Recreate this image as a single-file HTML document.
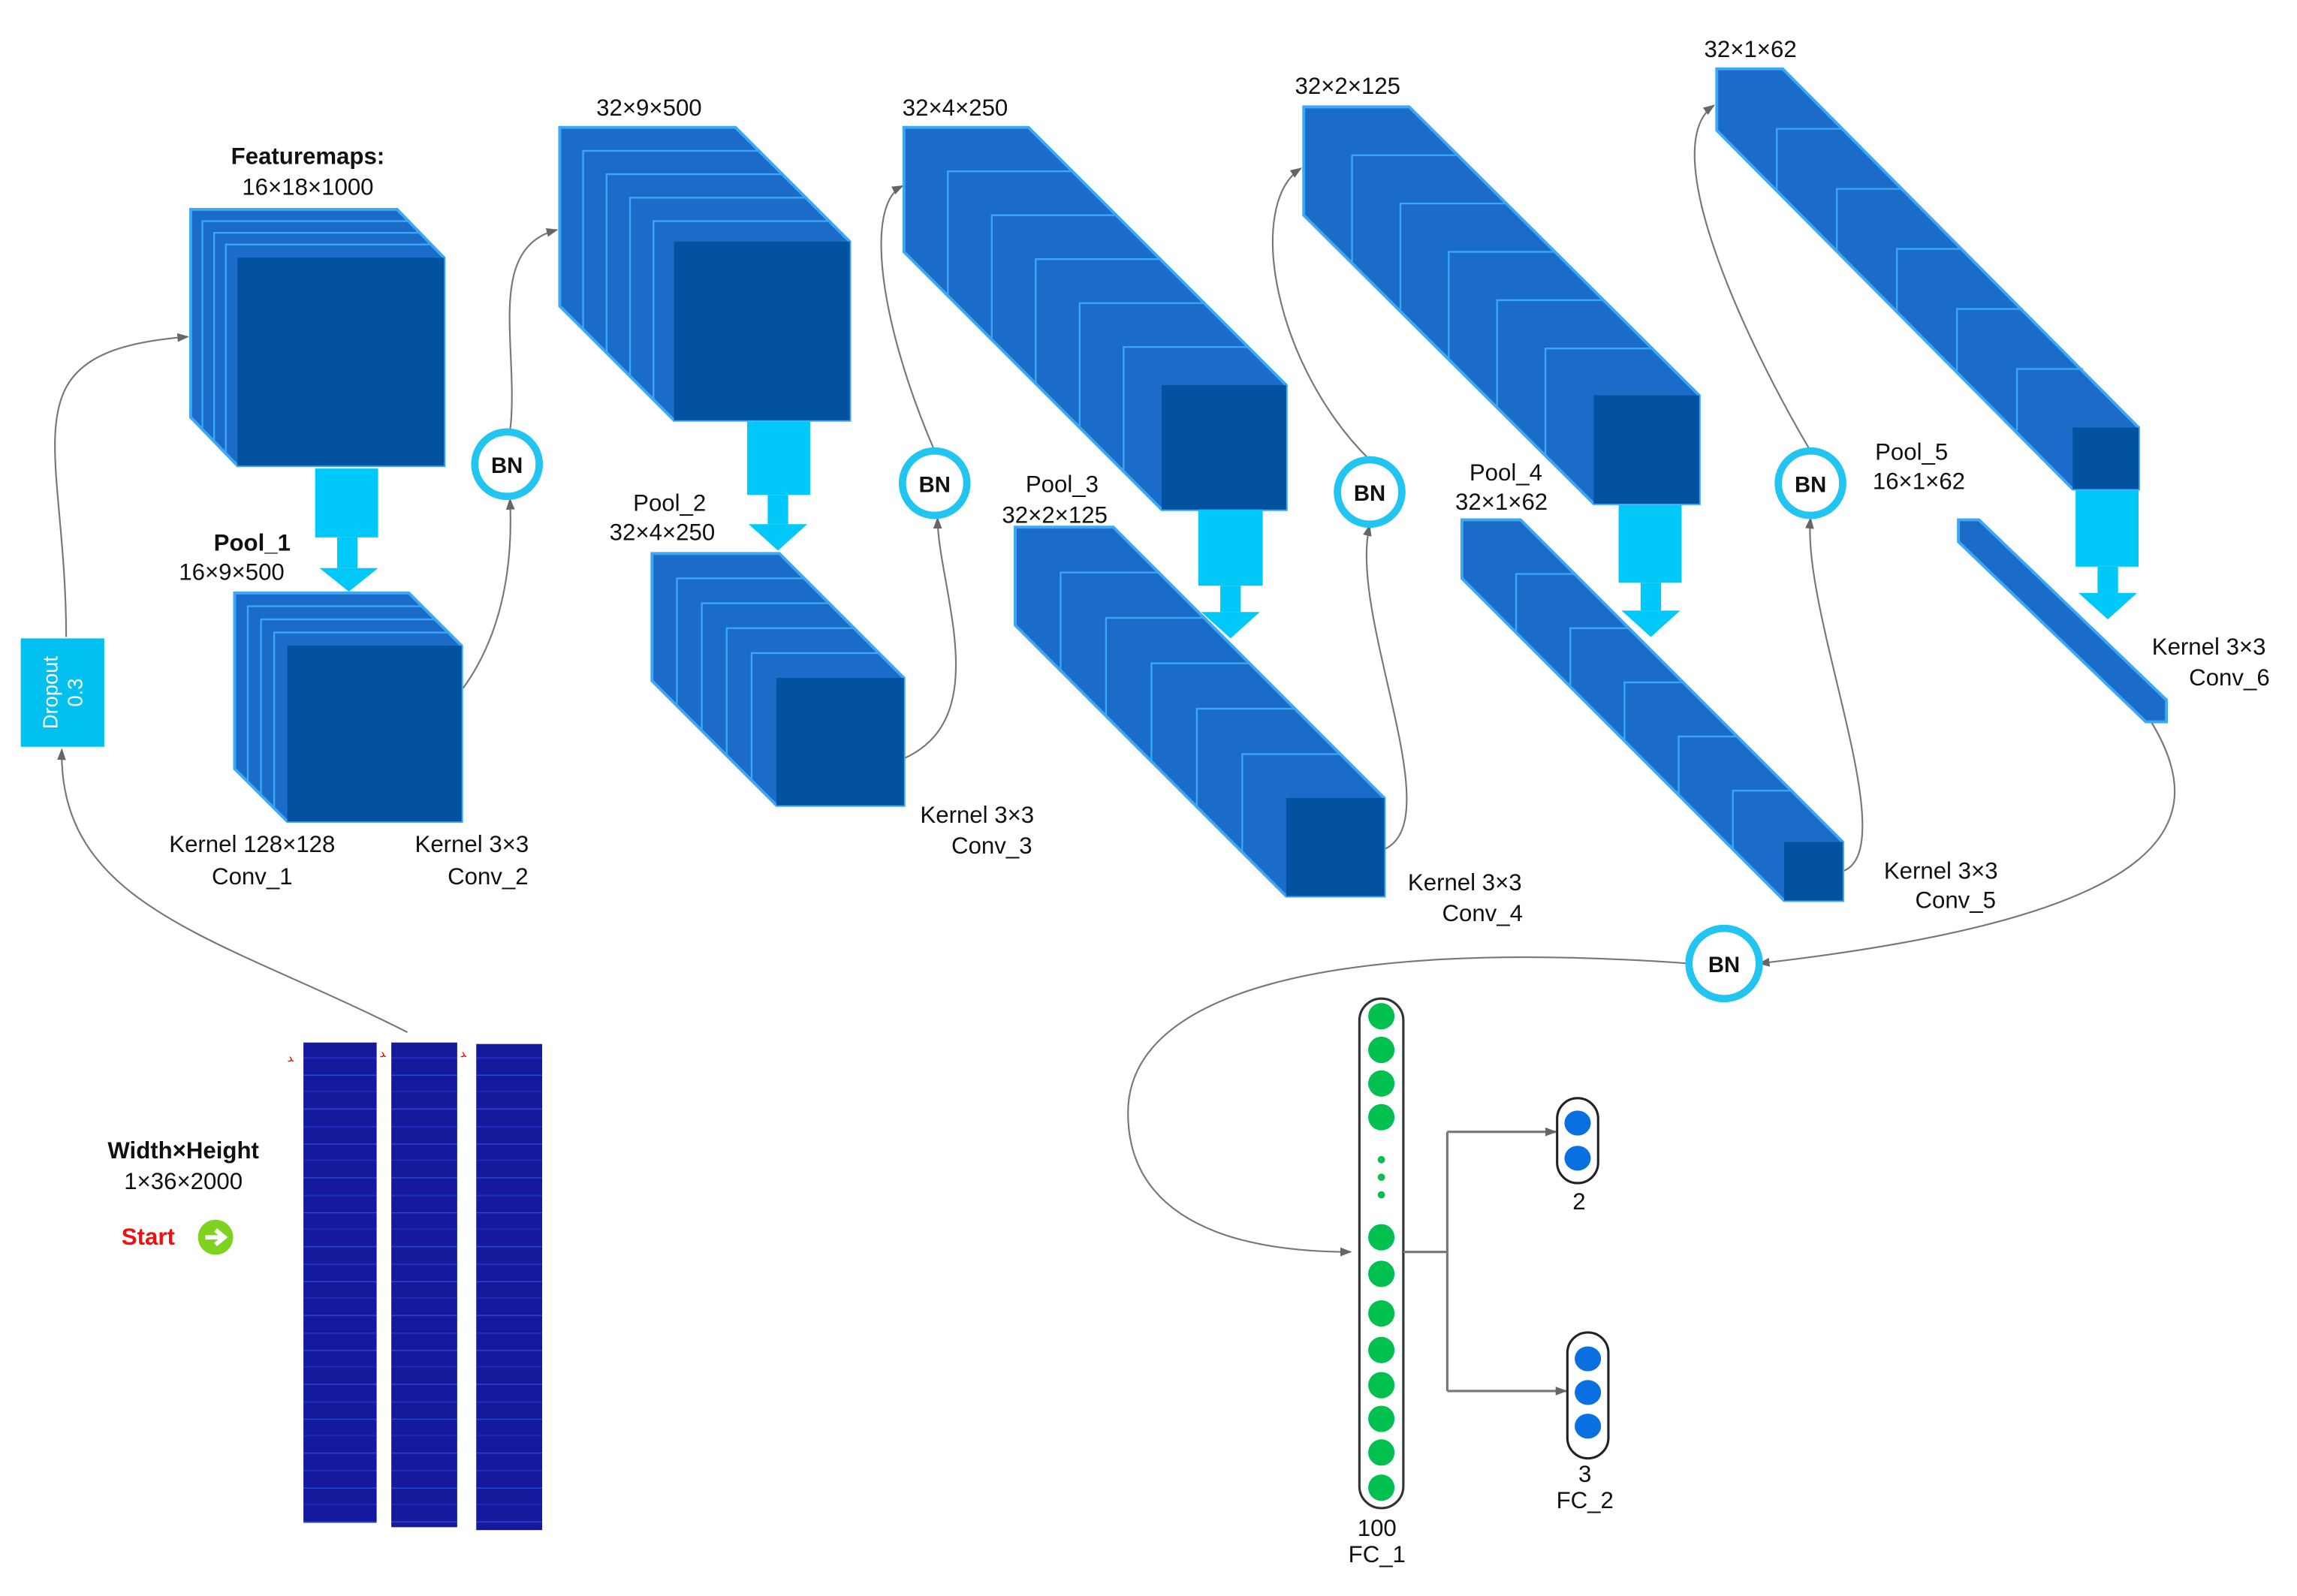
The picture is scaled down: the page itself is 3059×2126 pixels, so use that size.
<!DOCTYPE html>
<html><head><meta charset="utf-8"><style>
html,body{margin:0;padding:0;background:#fff;}
svg{display:block;}
text{font-family:"Liberation Sans",sans-serif;fill:#111;}
</style></head><body>
<svg width="3059" height="2126" viewBox="0 0 1568 1090" xmlns="http://www.w3.org/2000/svg">
<defs>
<marker id="ar" markerWidth="8" markerHeight="8" refX="7" refY="4" orient="auto" markerUnits="userSpaceOnUse"><path d="M0,1 L8,4 L0,7 z" fill="#666"/></marker>
<pattern id="spec" width="50" height="47" patternUnits="userSpaceOnUse">
<rect width="50" height="47" fill="#15199c"/>
<rect y="5" width="50" height="0.8" fill="#2a44d0"/>
<rect y="17" width="50" height="1" fill="#1e30c0"/>
<rect y="29" width="50" height="0.6" fill="#3050e0"/>
<rect y="40" width="50" height="0.8" fill="#1c2cb8"/>
</pattern>
</defs>
<g fill="none" stroke="#777" stroke-width="1.1">
<path d="M278,705 C150,640 40,620 42,512" marker-end="url(#ar)"/>
<path d="M45,435 C45,300 0,240 128,230" marker-end="url(#ar)"/>
<path d="M316,470 C345,430 350,380 348,341" marker-end="url(#ar)"/>
<path d="M348,295 C355,240 330,170 380,157" marker-end="url(#ar)"/>
<path d="M617,518 C680,490 640,400 640,354" marker-end="url(#ar)"/>
<path d="M638,308 C600,220 590,140 616,127" marker-end="url(#ar)"/>
<path d="M945,580 C990,560 920,420 935,359" marker-end="url(#ar)"/>
<path d="M935,314 C870,250 850,140 888,115" marker-end="url(#ar)"/>
<path d="M1258,595 C1300,580 1230,420 1236,354" marker-end="url(#ar)"/>
<path d="M1236,308 C1190,230 1130,100 1170,72" marker-end="url(#ar)"/>
<path d="M1468,492 C1510,560 1490,625 1201,658" marker-end="url(#ar)"/>
<path d="M1153,658 C900,640 770,680 770,760 C770,850 880,855 922,855" marker-end="url(#ar)"/>
</g>
<g fill="#1a6cc8" stroke="#3aa8f4" stroke-width="2">
<polygon points="130,143 271,143 303,176 303,318 162,318 130,285"/>
<polygon points="160,405 279,405 315,441 315,561 196,561 160,525"/>
<polygon points="382,87 502,87 580,165 580,287 460,287 382,209"/>
<polygon points="445,378 532,378 617,463 617,550 530,550 445,465"/>
<polygon points="617,87 702,87 878,263 878,348 793,348 617,172"/>
<polygon points="693,360 760,360 945,545 945,612 878,612 693,427"/>
<polygon points="890,73 962,73 1160,270 1160,344 1088,344 890,147"/>
<polygon points="998,355 1038,355 1258,575 1258,615 1218,615 998,395"/>
<polygon points="1172,47 1217,47 1460,292 1460,334 1415,334 1172,89"/>
<polygon points="1337,355 1351,355 1479,478 1479,493 1465,493 1337,370"/>
</g>
<g fill="none" stroke="#3aa8f4" stroke-width="1.2">
<path d="M138,293 V151 H279 M146,301 V159 H287 M154,309 V167 H295"/>
<path d="M169,534 V414 H288 M178,543 V423 H297 M187,552 V432 H306"/>
<path d="M398,225 V103 H518 M414,241 V119 H534 M430,257 V135 H550 M446,273 V151 H566"/>
<path d="M462,482 V395 H549 M479,499 V412 H566 M496,516 V429 H583 M513,533 V446 H600"/>
<path d="M647,202 V117 H732 M677,232 V147 H762 M707,262 V177 H792 M737,292 V207 H822 M767,322 V237 H852"/>
<path d="M724,458 V391 H791 M755,489 V422 H822 M786,520 V453 H853 M817,551 V484 H884 M848,582 V515 H915"/>
<path d="M923,180 V106 H995 M956,213 V139 H1028 M989,246 V172 H1061 M1022,279 V205 H1094 M1055,312 V238 H1127"/>
<path d="M1035,432 V392 H1075 M1072,469 V429 H1112 M1109,506 V466 H1149 M1146,543 V503 H1186 M1183,580 V540 H1223"/>
<path d="M1213,130 V88 H1258 M1254,171 V129 H1299 M1295,212 V170 H1340 M1336,253 V211 H1381 M1377,294 V252 H1422"/>
</g>
<g fill="#0352a0">
<rect x="162" y="176" width="141" height="142"/>
<rect x="196" y="441" width="119" height="120"/>
<rect x="460" y="165" width="120" height="122"/>
<rect x="530" y="463" width="87" height="87"/>
<rect x="793" y="263" width="85" height="85"/>
<rect x="878" y="545" width="67" height="67"/>
<rect x="1088" y="270" width="72" height="74"/>
<rect x="1218" y="575" width="40" height="40"/>
<rect x="1415" y="292" width="45" height="42"/>
</g>
<g fill="#00c8f8">
<rect x="215" y="320" width="43" height="47"/><rect x="230" y="367" width="14" height="21"/><polygon points="218,388 258,388 238,404"/>
<rect x="510" y="288" width="43" height="50"/><rect x="524" y="338" width="14" height="20"/><polygon points="511,358 551,358 531,376"/>
<rect x="818" y="348" width="44" height="52"/><rect x="833" y="400" width="14" height="18"/><polygon points="820,418 860,418 840,436"/>
<rect x="1105" y="345" width="43" height="53"/><rect x="1120" y="398" width="14" height="19"/><polygon points="1107,417 1147,417 1127,435"/>
<rect x="1417" y="335" width="43" height="52"/><rect x="1432" y="387" width="14" height="18"/><polygon points="1419,405 1459,405 1439,423"/>
</g>
<g fill="#fff" stroke="#22c4f0" stroke-width="5">
<circle cx="346" cy="317" r="22"/><circle cx="638" cy="330" r="22"/><circle cx="935" cy="336" r="22"/><circle cx="1236" cy="330" r="22"/><circle cx="1177" cy="658" r="24"/>
</g>
<g font-size="15" font-weight="bold" text-anchor="middle">
<text x="346" y="323">BN</text><text x="638" y="336">BN</text><text x="935" y="342">BN</text><text x="1236" y="336">BN</text><text x="1177" y="664">BN</text>
</g>
<rect x="14" y="436" width="57" height="74" fill="#00c0f0"/>
<g transform="translate(42,473) rotate(-90)" text-anchor="middle" font-size="14"><text x="0" y="-3" style="fill:#fff">Dropout</text><text x="0" y="14" style="fill:#fff">0.3</text></g>
<rect x="207" y="712" width="50" height="328" fill="url(#spec)"/>
<rect x="267" y="712" width="45" height="331" fill="url(#spec)"/>
<rect x="325" y="713" width="45" height="332" fill="url(#spec)"/>
<g font-size="8" style="fill:red"><text x="196" y="725" style="fill:#e00">ﺪ</text><text x="259" y="722" style="fill:#e00">ﺪ</text><text x="314" y="722" style="fill:#e00">ﺪ</text></g>
<rect x="928" y="682" width="30" height="348" rx="15" fill="#fff" stroke="#333" stroke-width="1.6"/>
<g fill="#00c050">
<ellipse cx="943" cy="694" rx="9" ry="9"/><ellipse cx="943" cy="717" rx="9" ry="9"/><ellipse cx="943" cy="740" rx="9" ry="9"/><ellipse cx="943" cy="763" rx="9" ry="9"/>
<circle cx="943" cy="792" r="2.5"/><circle cx="943" cy="804" r="2.5"/><circle cx="943" cy="816" r="2.5"/>
<ellipse cx="943" cy="845" rx="9" ry="9"/><ellipse cx="943" cy="870" rx="9" ry="9"/><ellipse cx="943" cy="897" rx="9" ry="9"/><ellipse cx="943" cy="922" rx="9" ry="9"/><ellipse cx="943" cy="946" rx="9" ry="9"/><ellipse cx="943" cy="969" rx="9" ry="9"/><ellipse cx="943" cy="992" rx="9" ry="9"/><ellipse cx="943" cy="1016" rx="9" ry="9"/>
</g>
<g fill="none" stroke="#777" stroke-width="1.6">
<path d="M958,855 H988 M988,773 V950"/>
<path d="M988,773 H1062" marker-end="url(#ar)"/>
<path d="M988,950 H1069" marker-end="url(#ar)"/>
</g>
<rect x="1063" y="750" width="28" height="58" rx="14" fill="#fff" stroke="#222" stroke-width="1.6"/>
<rect x="1070" y="910" width="28" height="86" rx="14" fill="#fff" stroke="#222" stroke-width="1.6"/>
<g fill="#0a6fe0">
<ellipse cx="1077" cy="767" rx="9" ry="8.5"/><ellipse cx="1077" cy="791" rx="9" ry="8.5"/>
<ellipse cx="1084" cy="928" rx="9" ry="8.5"/><ellipse cx="1084" cy="951" rx="9" ry="8.5"/><ellipse cx="1084" cy="974" rx="9" ry="8.5"/>
</g>
<circle cx="147" cy="845" r="12" fill="#7ed320"/>
<path d="M140,845 H151 M147,840 L153,845 L147,850" stroke="#fff" stroke-width="3" fill="none"/>
<g font-size="16" text-anchor="middle">
<text x="210" y="112" font-weight="bold">Featuremaps:</text><text x="210" y="133">16×18×1000</text>
<text x="172" y="376" font-weight="bold">Pool_1</text><text x="158" y="396">16×9×500</text>
<text x="172" y="582">Kernel 128×128</text><text x="172" y="604">Conv_1</text>
<text x="322" y="582">Kernel 3×3</text><text x="333" y="604">Conv_2</text>
<text x="443" y="79">32×9×500</text>
<text x="457" y="349">Pool_2</text><text x="452" y="369">32×4×250</text>
<text x="667" y="562">Kernel 3×3</text><text x="677" y="583">Conv_3</text>
<text x="652" y="79">32×4×250</text>
<text x="725" y="336">Pool_3</text><text x="720" y="357">32×2×125</text>
<text x="1000" y="608">Kernel 3×3</text><text x="1012" y="629">Conv_4</text>
<text x="920" y="64">32×2×125</text>
<text x="1028" y="328">Pool_4</text><text x="1025" y="348">32×1×62</text>
<text x="1325" y="600">Kernel 3×3</text><text x="1335" y="620">Conv_5</text>
<text x="1195" y="39">32×1×62</text>
<text x="1305" y="314">Pool_5</text><text x="1310" y="334">16×1×62</text>
<text x="1508" y="447">Kernel 3×3</text><text x="1522" y="468">Conv_6</text>
<text x="125" y="791" font-weight="bold">Width×Height</text><text x="125" y="812">1×36×2000</text>
<text x="101" y="850" font-weight="bold" style="fill:#f01010">Start</text>
<text x="1078" y="826">2</text>
<text x="1082" y="1012">3</text><text x="1082" y="1030">FC_2</text>
<text x="940" y="1049">100</text><text x="940" y="1067">FC_1</text>
</g>
</svg>
</body></html>
